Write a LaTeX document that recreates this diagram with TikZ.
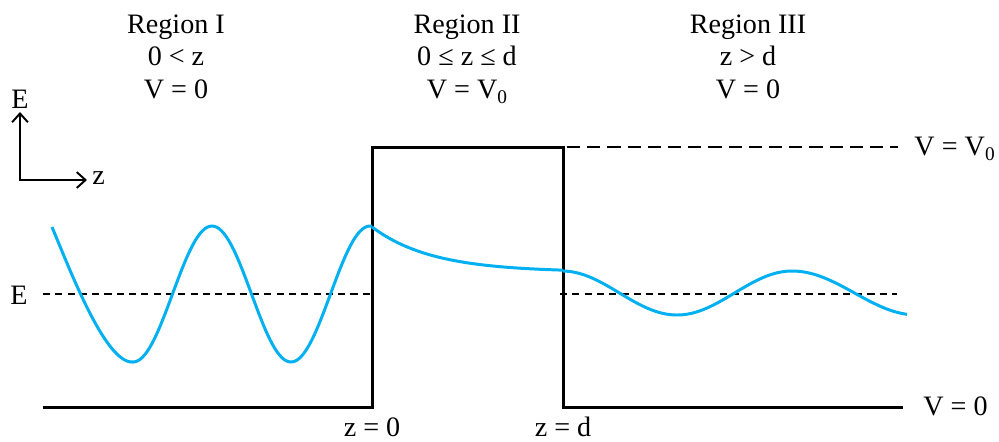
\documentclass[tikz,border=0pt]{standalone}
\usepackage{fontspec}
\setmainfont{Liberation Serif}
\usetikzlibrary{arrows.meta}

\definecolor{wavecyan}{RGB}{0,176,240}
\newcommand{\subz}{\lower0.45ex\hbox{\fontsize{11}{11}\selectfont 0}}

\begin{document}
\begin{tikzpicture}[x=0.02cm, y=-0.02cm,
    lbl/.style={font=\fontsize{16}{19}\selectfont, inner sep=0pt, anchor=base},
    wall/.style={line width=1.7pt, line join=miter},
    wave/.style={line width=1.7pt, wavecyan},
    elevel/.style={line width=1.1pt, dash pattern=on 4pt off 3pt},
    vlevel/.style={line width=1.1pt, dash pattern=on 7.5pt off 4pt},
    ax/.style={line width=1.1pt, {Straight Barb[length=5pt, width=9pt]}-{Straight Barb[length=5pt, width=9pt]}}]

    \useasboundingbox (0,0) rectangle (999,441);

    % region headers
    \foreach \x/\n/\a/\b in {176/I/0 < z/V = 0, 467/II/0 ≤ z ≤ d/V = V\subz, 748/III/z > d/V = 0} {
      \node[lbl] (reg\n) at (\x,33) {Region \n};
      \node[lbl] (cond\n) at (\x,65) {\a};
      \node[lbl] (pot\n) at (\x,98) {\b};
    }

    % axes
    \coordinate (ax0) at (20,180);
    \coordinate (axE) at (20,112);
    \coordinate (axz) at (87,180);
    \draw[ax] (axE) -- (ax0) -- (axz);
    \node[lbl] (eAx) at (20,108) {E};
    \node[lbl, anchor=base west] (zAx) at (92,184) {z};

    % potential step
    \coordinate (l0)  at (43,407);
    \coordinate (b0)  at (372,407);
    \coordinate (b0t) at (372,147);
    \coordinate (bdt) at (563,147);
    \coordinate (bd)  at (563,407);
    \coordinate (r0)  at (903,407);
    \coordinate (vend) at (898,147);
    \draw[wall] (l0) -- (b0) -- (b0t) -- (bdt) -- (bd) -- (r0);
    \draw[vlevel] (bdt) ++(4,0) -- (vend);

    % energy level
    \draw[elevel] (43,294) -- (372,294);
    \draw[elevel] (560,294) -- (897,294);
    \node[lbl] (eLvl) at (19,304) {E};

    % wave function
    \draw[wave] (52,227) .. controls (70,270) and (105,362) .. (132,362)
      -- plot[domain=132:372, samples=100] (\x, {294-68*cos((\x-212)/158*360)});
    \draw[wave] plot[domain=372:563, samples=60] (\x, {272-45*exp(-(\x-372)/60)});
    \draw[wave] plot[domain=563:792, samples=80] (\x, {293-22*cos((\x-792)/230*360)})
      -- plot[domain=792:907, samples=50] (\x, {293-22*cos((\x-792)/250*360)});

    % labels
    \node[lbl] (zZero) at (372,436) {z = 0};
    \node[lbl] (zD) at (563,436) {z = d};
    \node[lbl, anchor=base west] (vZero) at (923,415) {V = 0};
    \node[lbl, anchor=base east] (vTop) at (995,155) {V = V\subz};
\end{tikzpicture}
\end{document}
